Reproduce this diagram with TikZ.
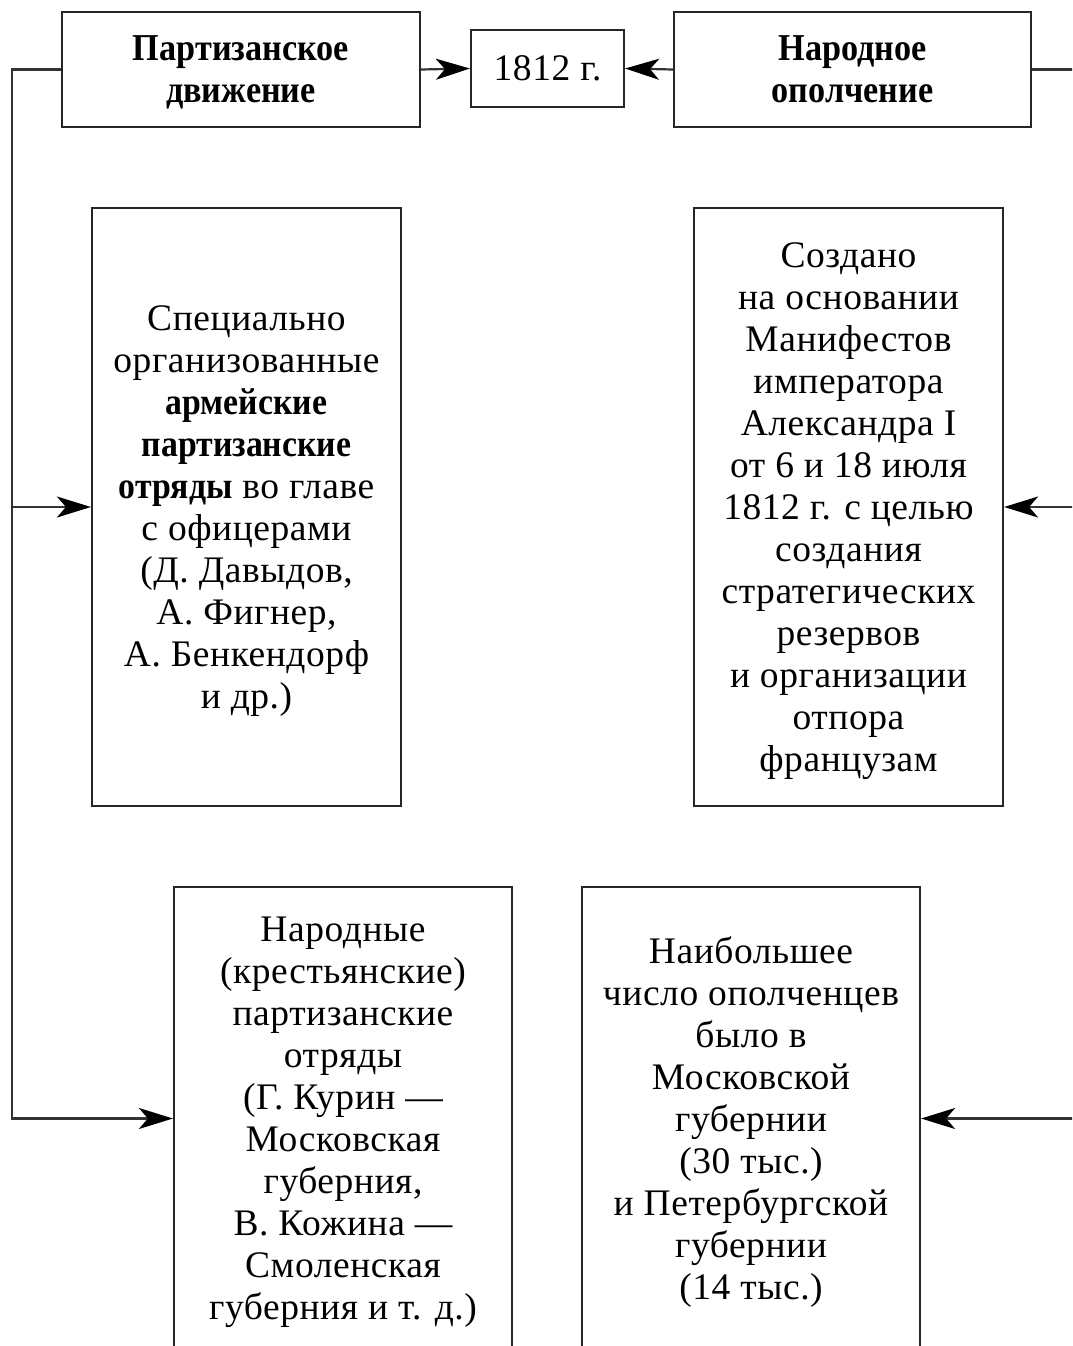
\documentclass[tikz,border=0pt]{standalone}
\usepackage{fontspec}
\setmainfont{Liberation Serif}[LetterSpace=1.5]
\newfontfamily\headfont{Liberation Serif}[FakeStretch=0.9]
\newfontfamily\bodybold{Liberation Serif Bold}[FakeStretch=0.9]
\newcommand{\bb}[1]{{\bodybold #1}}
\usetikzlibrary{arrows.meta}
\begin{document}
\begin{tikzpicture}[x=1pt,y=-1pt,
  box/.style={draw=black!85,line width=2.2pt,rectangle,inner sep=0pt,align=center,
    text depth=0pt,font=\fontsize{37.5}{42}\selectfont},
  head/.style={box,font=\fontsize{38}{42}\selectfont\headfont\bfseries},
  link/.style={draw=black!80,line width=2.2pt},
  arr/.style={link,-{Stealth[length=34pt,width=21pt,inset=9pt,fill=black,color=black]}}]
\useasboundingbox (0,0) rectangle (1072,1346);
\clip (0,0) rectangle (1072,1346);
\fill[white] (0,0) rectangle (1072,1346);
\node[head,minimum width=358pt,minimum height=115pt] (tl) at (241,69.5) {Партизанское\\движение};
\node[box,minimum width=153pt,minimum height=77pt] (yr) at (547.5,68.5) {1812 г.};
\node[head,minimum width=357pt,minimum height=115pt] (tr) at (852.5,69.5) {Народное\\ополчение};
\node[box,minimum width=309pt,minimum height=598pt] (ml) at (246.5,507) {Специально\\организованные\\\bb{армейские}\\\bb{партизанские}\\\bb{отряды} во главе\\с офицерами\\(Д. Давыдов,\\А. Фигнер,\\А. Бенкендорф\\и др.)};
\node[box,minimum width=309pt,minimum height=598pt] (mr) at (848.5,507) {Создано\\на основании\\Манифестов\\императора\\Александра I\\от 6 и 18 июля\\1812 г. с целью\\создания\\стратегических\\резервов\\и организации\\отпора\\французам};
\node[box,minimum width=338pt,minimum height=463pt] (bl) at (343,1118.5) {Народные\\(крестьянские)\\партизанские\\отряды\\(Г. Курин —\\Московская\\губерния,\\В. Кожина —\\Смоленская\\губерния и т. д.)};
\node[box,minimum width=338pt,minimum height=463pt] (br) at (751,1118.5) {Наибольшее\\число ополченцев\\было в\\Московской\\губернии\\(30 тыс.)\\и Петербургской\\губернии\\(14 тыс.)};
\coordinate (L) at (12,69.5);
\coordinate (R) at (1085,69.5);
\draw[arr] (tl.east) -- (yr.west);
\draw[arr] (tr.west) -- (yr.east);
\draw[arr] (tl.west) -- (L) |- (bl.west);
\draw[arr] (L |- ml.west) -- (ml.west);
\draw[arr] (tr.east) -- (R) |- (br.east);
\draw[arr] (R |- mr.east) -- (mr.east);
\end{tikzpicture}
\end{document}
